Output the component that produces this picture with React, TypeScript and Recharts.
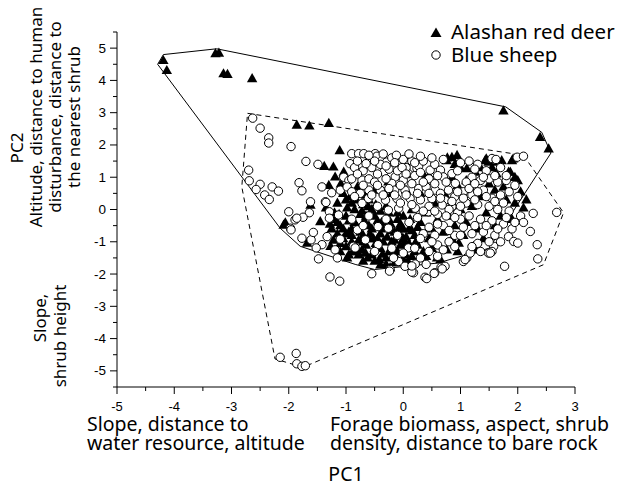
import React from 'react'
import { ScatterChart, Scatter, XAxis, YAxis } from 'recharts'

const TITLE_FONT = '"Noto Sans", "Open Sans", sans-serif'
const TICK_FONT = '"Liberation Sans", Arial, sans-serif'

const xTicks = [-5, -4.5, -4, -3.5, -3, -2.5, -2, -1.5, -1, -0.5, 0, 0.5, 1, 1.5, 2, 2.5, 3]
const yTicks = [-5.5, -5, -4.5, -4, -3.5, -3, -2.5, -2, -1.5, -1, -0.5, 0, 0.5, 1, 1.5, 2, 2.5, 3, 3.5, 4, 4.5, 5, 5.5]

// Alashan red deer (PC1, PC2)
const redDeer: [number, number][] = [
  [-4.19, 4.62], [-4.13, 4.31], [-3.28, 4.83], [-3.22, 4.85], [-3.14, 4.21], [-3.07, 4.19], [-2.64, 4.06],
  [-1.86, 2.62], [-1.64, 2.59], [-1.3, 2.67], [-1.11, 1.83], [1.75, 3.06], [2.39, 2.24], [2.54, 1.88],
  [-2.06, -0.41], [-2.09, -0.48], [-1.45, -0.37], [-1.62, 0.14], [-1.68, -1.04], [-1.27, -1.14],
  [-1.38, 1.34], [-1.22, 1.32], [-1.19, 1.01], [-1.04, 1.16], [-1.3, 0.75], [-1.09, 0.8], [-1.05, 0.5],
  [-0.93, 0.39], [-1.15, 0.2], [-0.98, 0.05], [-1.2, -0.1], [-1.35, 0.05],
  [1.43, 1.52], [1.64, 1.47], [1.72, 1.52], [1.9, 1.52], [1.87, 1.16], [1.43, 1.11], [1.63, 1.11],
  [1.11, 1.27], [1.26, 1.16], [1.49, 1.47], [1.45, 1.57], [1.92, 1.57], [1.84, 1.16], [0.09, 1.62],
  [0.76, 1.52], [0.85, 1.62], [0.94, 1.68], [0.38, 1.01], [0.45, 1.05], [-0.26, 0.86], [-0.34, 0.55],
  [-0.61, 0.09], [0.77, 1.6], [0.9, 1.4], [1.0, 1.3], [1.1, 0.9], [0.95, 0.75], [1.17, 0.7], [0.85, 1.0],
  [2.05, 0.55], [1.95, 0.2], [2.1, 0.05], [1.8, 0.3], [1.7, -0.2], [1.6, 0.6], [1.35, 0.4], [1.45, -0.1],
  [1.2, 0.1], [1.3, -0.6], [1.23, -1.14], [0.97, -1.04], [0.76, -1.25], [0.65, -1.55], [0.59, -1.5],
  [1.26, -1.25], [1.05, -0.8],
  [1.5, 0.8], [1.75, 0.7], [1.95, 1.0], [2.0, 0.9], [1.55, 1.3], [1.35, 1.3], [2.15, 0.3], [1.9, -0.3],
  [1.6, -0.5], [1.4, -0.9], [1.1, -0.4], [0.85, -0.9], [0.95, -1.3], [0.5, -1.2], [0.4, -1.45],
  [-1.2, -0.3], [-1.1, -0.5], [-1.0, -0.2], [-0.95, -0.7], [-0.9, -1.0], [-1.05, -0.9], [-1.15, -0.75],
  [-0.85, -0.4], [-0.8, -1.3], [-0.75, -0.15], [-0.7, -0.8], [-0.65, -1.1], [-0.6, -0.5], [-0.55, -1.4],
  [-0.5, -0.2], [-0.45, -0.9], [-0.4, -1.2], [-0.35, -0.6], [-0.3, -1.5], [-0.25, -0.3], [-0.2, -1.0],
  [-0.15, -0.7], [-0.1, -1.3], [-0.05, -0.45], [0.0, -0.9], [0.05, -1.2], [0.1, -0.6], [0.15, -1.45],
  [0.2, -0.8], [0.25, -1.1], [0.3, -0.4], [0.35, -1.3], [-1.25, -0.6], [-1.0, -1.15], [-0.9, -0.6],
  [-0.78, -0.95], [-0.68, -0.35], [-0.58, -0.75], [-0.48, -1.05], [-0.38, -0.4], [-0.28, -0.85],
  [-0.18, -1.25], [-0.08, -0.6], [0.02, -1.05], [0.12, -0.3], [0.22, -1.0], [-0.72, -1.25], [-0.62, -1.5],
  [-0.42, -1.55], [-0.12, -1.5], [0.08, -1.6], [-0.95, -1.4], [-1.1, -1.3], [-0.85, 0.0], [-0.7, 0.15],
  [-0.55, 0.0], [-0.4, -0.05], [-0.9, 0.2], [-0.6, 0.3], [-0.3, 0.1], [-0.1, -0.1], [0.15, 0.0], [0.4, -0.1],
  [0.5, -0.6], [0.45, -0.9], [0.6, -0.3], [0.7, -0.7], [0.8, -0.2], [0.9, -0.5], [1.0, 0.0], [0.55, 0.2],
  [0.75, 0.4], [0.3, 0.5], [0.05, 0.6], [-0.2, 0.5], [-0.5, 0.6], [-0.8, 0.7], [-0.4, -1.71], [-0.23, -1.8],
  [-0.78, -1.4],
  [-1.15, -0.4], [-1.05, -0.6], [-0.95, -0.35], [-0.9, -0.8], [-0.85, -1.15], [-0.8, -0.55], [-0.75, -0.7],
  [-0.7, -1.0], [-0.65, -0.2], [-0.6, -0.9], [-0.55, -0.6], [-0.5, -1.2], [-0.45, -0.35], [-0.4, -0.75],
  [-0.35, -1.0], [-0.3, -0.5], [-0.25, -1.3], [-0.2, -0.65], [-0.15, -0.95], [-0.1, -0.3], [-0.05, -1.1],
  [0.0, -0.6], [0.05, -0.85], [0.1, -1.05], [0.15, -0.65], [0.2, -1.3], [0.25, -0.55], [-1.0, -0.75],
  [-0.88, -1.3], [-0.66, -1.35], [-0.52, -0.9], [-0.36, -1.38], [-0.22, -0.45], [-0.06, -0.75], [0.04, -1.4],
  [0.18, -1.15], [-1.22, -0.95], [-1.1, -1.05], [-0.98, -1.5], [-0.7, -1.6], [-0.5, -1.6], [-0.3, -1.7],
  [-0.15, -1.65], [0.0, -1.55], [-1.28, -0.45], [-1.12, -0.15], [-0.72, -0.05], [-0.48, 0.15], [-0.25, -0.1],
  [0.0, -0.2], [-0.82, 0.3], [-1.0, 0.3], [-0.65, 0.45],
]

// Blue sheep (PC1, PC2)
const blueSheep: [number, number][] = [
  [-2.63, 2.83], [-2.5, 2.52], [-2.35, 2.22], [-2.35, 2.06], [-1.96, 1.95], [-1.7, 1.49], [-1.49, 1.4],
  [-2.7, 1.22], [-2.69, 0.89], [-2.5, 0.78], [-2.57, 0.62], [-2.29, 0.7], [-2.18, 0.57], [-2.42, 0.45],
  [-2.34, 0.31], [-1.82, 0.83], [-1.77, 0.58], [-1.62, 0.24], [-2.0, -0.07], [-1.64, -0.1], [-1.89, -0.32],
  [-1.75, -0.24], [-1.42, 0.7], [-1.25, 0.52], [-1.36, 0.24], [-1.29, -0.07], [-1.13, -0.17], [-1.97, -0.58],
  [-1.86, -0.27], [-1.96, -0.63], [-1.77, -0.89], [-1.61, -0.94], [-1.57, -0.71], [-1.42, -1.09],
  [-1.52, -1.19], [-1.48, -1.53], [-1.33, -0.84], [-1.19, -1.25], [-1.15, -1.5], [-1.28, -2.09],
  [-1.11, -2.22], [-1.1, -0.92], [-0.87, -1.14], [-1.29, -0.27], [-1.35, 0.22],
  [-2.15, -4.58], [-1.87, -4.46], [-1.86, -4.78], [-1.77, -4.86], [-1.71, -4.84],
  [-0.9, 1.73], [-0.93, 1.42], [-1.04, 1.0], [-0.95, 0.9], [-1.1, 0.6], [-0.98, 0.7],
  [-0.55, -1.99], [-0.23, -1.86], [-0.08, -1.61], [0.03, -1.76], [0.18, -1.96], [0.21, -1.69], [0.38, -2.1],
  [0.55, -1.96], [0.66, -1.79], [0.73, -1.76], [0.09, -1.19], [-0.17, -1.5], [-0.44, -1.09], [-0.84, -1.19],
  [-0.66, -0.94], [-0.44, -0.53], [-0.26, -0.58], [-0.8, -0.63], [0.41, -2.14], [0.54, -1.98], [0.68, -1.84],
  [0.15, -1.94], [-0.24, -1.91],
  [2.22, -0.68], [2.34, -1.09], [2.35, -1.53], [1.77, -1.76], [2.68, -0.09], [2.27, -0.12], [1.84, -0.84],
  [1.93, -0.99], [2.0, -1.04], [1.58, -1.14], [1.55, -1.3], [1.49, -1.35], [1.11, -1.5], [1.05, -1.61],
  [1.08, -1.55], [1.17, -1.35], [1.52, -1.35], [1.99, 1.62], [2.1, 1.65], [1.55, 1.58], [1.62, 1.55],
  [-0.78, 1.73], [-0.69, 1.73], [-0.58, 1.58], [-0.49, 1.73], [-0.46, 1.65], [-0.37, 1.52], [-0.29, 1.47],
  [-0.2, 1.6], [-0.08, 1.42], [0.0, 1.55], [0.09, 1.11], [0.24, 1.27], [0.27, 1.35], [0.35, 1.5], [0.47, 1.22],
  [0.55, 1.4], [0.65, 1.22], [-0.14, 1.01], [-0.34, 1.16], [-0.45, 1.1], [-0.72, 0.91], [-0.6, 0.95],
  [-0.5, 0.85], [-0.2, 0.81], [0.03, 0.6], [0.27, 0.65], [0.4, 0.7], [0.56, 0.6], [0.7, 1.01], [0.85, 1.11],
  [0.91, 0.81], [0.79, 0.6], [-0.11, 0.34], [0.12, 0.34], [0.3, 0.3], [0.5, 0.34], [0.73, 0.29], [-0.61, 0.34],
  [-0.31, 0.29], [-0.72, 0.19], [-0.45, 0.1], [-0.26, -0.02], [-0.08, 0.04], [0.21, 0.04], [0.44, -0.07],
  [0.68, 0.14], [0.85, 0.09], [0.95, -0.1],
  [1.0, 1.45], [1.15, 1.5], [1.3, 1.4], [1.2, 1.0], [1.35, 0.9], [1.5, 0.95], [1.65, 0.85], [1.8, 0.9],
  [1.95, 0.75], [1.05, 0.55], [1.2, 0.45], [1.4, 0.6], [1.55, 0.35], [1.7, 0.45], [1.85, 0.55], [2.0, 0.4],
  [1.1, 0.2], [1.3, 0.15], [1.5, 0.1], [1.65, 0.0], [1.85, -0.05], [2.05, -0.2], [1.0, -0.3], [1.15, -0.2],
  [1.35, -0.3], [1.55, -0.35], [1.75, -0.45], [1.9, -0.6], [2.1, -0.4], [0.9, -0.8], [1.05, -0.55],
  [1.2, -0.75], [1.4, -0.7], [1.6, -0.8], [1.7, -1.0], [0.8, -1.0], [0.6, -1.1], [0.45, -1.3], [0.3, -1.5],
  [0.55, -0.8], [0.7, -0.5], [0.35, -0.75], [0.25, -0.25], [0.6, -0.15], [0.8, 0.0], [0.9, 0.4], [0.65, 0.5],
  [0.45, 0.1], [1.1, 0.85], [0.95, 1.2], [1.25, 1.25], [1.45, 1.2], [1.7, 1.3], [1.8, 1.05],
  [-0.85, 1.3], [-0.7, 1.2], [-0.55, 1.3], [-0.4, 1.4], [-0.25, 1.25], [-0.1, 1.2], [0.05, 1.3], [0.15, 1.5],
  [-0.75, 0.5], [-0.6, 0.6], [-0.4, 0.6], [-0.15, 0.6], [0.15, 0.8], [-0.9, 0.95], [-0.3, 0.95], [0.0, 0.9],
  [0.2, 1.05], [-0.9, -0.3], [-0.6, -0.2], [-0.3, -0.3], [-0.1, -0.8], [0.1, -0.4], [-0.5, -1.3], [-0.7, -0.5],
  [0.0, -1.35], [-0.2, -1.2],
  [-0.6, 1.68], [-0.35, 1.72], [-0.12, 1.68], [0.1, 1.72], [0.3, 1.65], [0.5, 1.6], [0.7, 1.55], [0.2, 1.45],
  [-0.02, 1.3], [-0.8, 1.5], [-0.65, 1.42], [-0.5, 1.5], [-0.3, 1.35], [-0.15, 1.45], [0.05, 1.1], [0.3, 1.15],
  [0.45, 0.95], [0.6, 1.05], [0.75, 0.85], [0.55, 0.8], [0.35, 0.85], [-0.05, 0.75], [-0.25, 0.65],
  [-0.45, 0.75], [-0.7, 0.75], [-0.55, 0.45], [-0.35, 0.45], [-0.15, 0.45], [0.05, 0.45], [0.25, 0.5],
  [0.45, 0.5], [0.65, 0.35], [0.85, 0.25], [0.95, 0.55], [1.05, 0.35], [1.15, 0.65], [1.25, 0.8], [1.4, 1.0],
  [1.6, 1.05], [1.3, 0.55], [1.45, 0.4], [1.6, 0.25], [1.75, 0.2], [1.25, 0.3], [1.0, 0.1], [0.9, -0.25],
  [0.75, -0.2], [0.55, -0.05], [0.35, -0.05], [0.15, 0.15], [-0.05, 0.2], [0.6, -0.45], [0.8, -0.65],
  [1.0, -0.8], [1.25, -0.5], [1.45, -0.5], [1.65, -0.6], [1.8, -0.25], [1.95, -0.4], [0.45, -0.55],
  [0.3, -0.9], [0.5, -1.0], [0.7, -1.25], [0.9, -1.15], [1.3, -1.05], [1.5, -1.0], [1.35, -1.3], [0.2, -1.2],
  [0.6, -1.45], [0.15, -1.75], [0.4, -1.7], [1.2, -1.15], [-0.9, 0.55], [-0.85, 0.4], [-0.8, 1.1],
]

// convex hulls drawn around each species
const redDeerHull: [number, number][] = [
  [-4.29, 4.5], [-4.19, 4.8], [-3.26, 4.98], [1.79, 3.18], [2.42, 2.39], [2.58, 1.75], [1.5, -1.2],
  [0.6, -1.66], [-0.5, -1.86], [-0.84, -1.7], [-1.8, -1.14], [-2.15, -0.58], [-4.29, 4.5],
]
const blueSheepHull: [number, number][] = [
  [-2.72, 2.98], [2.1, 1.68], [2.8, -0.1], [2.45, -1.71], [-1.75, -4.89], [-2.24, -4.63], [-2.82, 0.7],
  [-2.72, 2.98],
]

const toPoints = (arr: [number, number][]) => arr.map(([x, y]) => ({ x, y }))

const Triangle = (props: any) => {
  const { cx, cy } = props
  return <polygon points={`${cx},${cy - 5.5} ${cx + 5.2},${cy + 3.7} ${cx - 5.2},${cy + 3.7}`} fill="#000" />
}

const Circle = (props: any) => (
  <circle cx={props.cx} cy={props.cy} r={4.2} fill="#fff" stroke="#000" strokeWidth={1} />
)

const NoDot = () => <g />

const XTick = (props: any) => {
  const { x, y, payload } = props
  const major = Number.isInteger(payload.value)
  return (
    <g>
      <line x1={x} y1={y} x2={x} y2={y + (major ? 7 : 4)} stroke="#000" />
      {major && (
        <text x={x} y={y + 23.5} textAnchor="middle" fontSize={13} fontFamily={TICK_FONT} fill="#000">
          {payload.value}
        </text>
      )}
    </g>
  )
}

const YTick = (props: any) => {
  const { x, y, payload } = props
  const major = Number.isInteger(payload.value)
  const show = major && Math.abs(payload.value) <= 5
  return (
    <g>
      <line x1={x - (major ? 7 : 4)} y1={y} x2={x} y2={y} stroke="#000" />
      {show && (
        <text x={x - 11} y={y + 4.5} textAnchor="end" fontSize={13.5} fontFamily={TICK_FONT} fill="#000">
          {payload.value}
        </text>
      )}
    </g>
  )
}

export default function App() {
  return (
    <div style={{ position: 'absolute', left: 0, top: 0, width: 636, height: 489, background: '#fff' }}>
      <ScatterChart width={636} height={489} margin={{ top: 32, right: 61, bottom: 72, left: 77 }}>
        <XAxis
          type="number"
          dataKey="x"
          domain={[-5, 3]}
          ticks={xTicks}
          height={30}
          tickSize={0}
          tickMargin={0}
          tick={<XTick />}
          interval={0}
          allowDataOverflow
          axisLine={{ stroke: '#000' }}
        />
        <YAxis
          type="number"
          dataKey="y"
          domain={[-5.5, 5.5]}
          ticks={yTicks}
          width={40}
          tickSize={0}
          tickMargin={0}
          tick={<YTick />}
          interval={0}
          allowDataOverflow
          axisLine={{ stroke: '#000' }}
        />
        <Scatter
          data={toPoints(redDeerHull)}
          line={{ stroke: '#000', strokeWidth: 1 }}
          shape={<NoDot />}
          legendType="none"
          isAnimationActive={false}
        />
        <Scatter
          data={toPoints(blueSheepHull)}
          line={{ stroke: '#000', strokeWidth: 1, strokeDasharray: '5 4' }}
          shape={<NoDot />}
          legendType="none"
          isAnimationActive={false}
        />
        <Scatter name="Alashan red deer" data={toPoints(redDeer)} shape={<Triangle />} isAnimationActive={false} />
        <Scatter name="Blue sheep" data={toPoints(blueSheep)} shape={<Circle />} isAnimationActive={false} />
      </ScatterChart>
      <svg
        width={636}
        height={489}
        style={{ position: 'absolute', left: 0, top: 0, pointerEvents: 'none' }}
        fill="#000"
        fontFamily={TITLE_FONT}
      >
        {/* legend */}
        <polygon points="436,27.5 441.5,37 430.5,37" fill="#000" />
        <text x={451} y={39} fontSize={20.5}>Alashan red deer</text>
        <circle cx={436} cy={55} r={4.2} fill="#fff" stroke="#000" />
        <text x={451} y={61.5} fontSize={20.5}>Blue sheep</text>

        {/* y axis titles */}
        <g fontSize={17}>
          <text transform="translate(23,148) rotate(-90)" textAnchor="middle">PC2</text>
          <text transform="translate(42,117) rotate(-90)" textAnchor="middle">Altitude, distance to human</text>
          <text transform="translate(61,117) rotate(-90)" textAnchor="middle">disturbance, distance to</text>
          <text transform="translate(80,117) rotate(-90)" textAnchor="middle">the nearest shrub</text>
          <text transform="translate(46,318) rotate(-90)" textAnchor="middle">Slope,</text>
          <text transform="translate(66,336) rotate(-90)" textAnchor="middle">shrub height</text>
        </g>

        {/* x axis titles */}
        <g fontSize={19.5}>
          <text x={87} y={431}>Slope, distance to</text>
          <text x={87} y={450}>water resource, altitude</text>
          <text x={330} y={431}>Forage biomass, aspect, shrub</text>
          <text x={330} y={450}>density, distance to bare rock</text>
          <text x={346} y={481} textAnchor="middle">PC1</text>
        </g>
      </svg>
    </div>
  )
}
